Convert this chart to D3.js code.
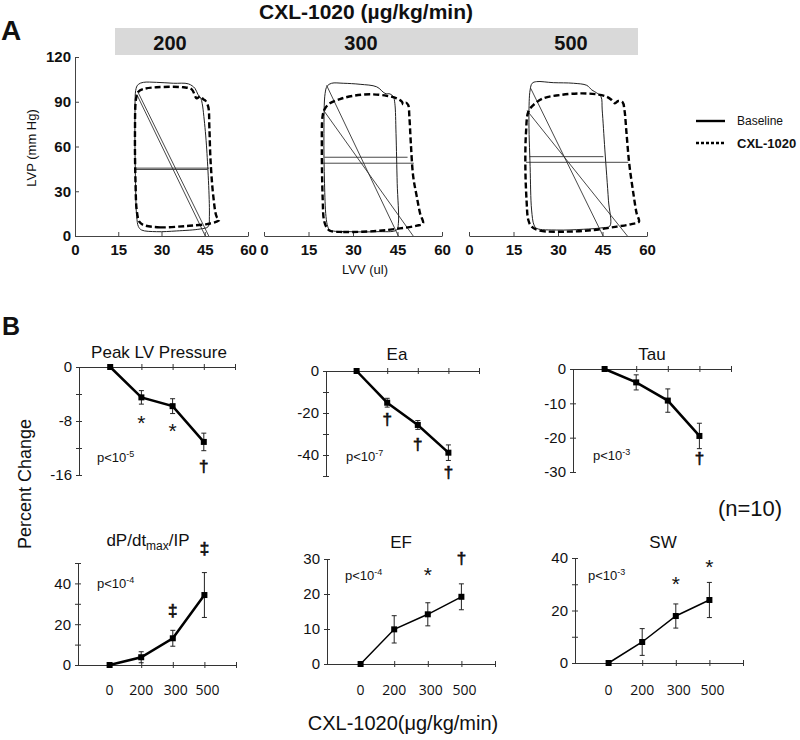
<!DOCTYPE html>
<html>
<head>
<meta charset="utf-8">
<script src="https://d3js.org/d3.v7.min.js"></script>
<style>
  body { margin: 0; background: #fff; }
  svg text { fill: #111; }
  .narrow { font-family: "Liberation Sans Narrow", "Arial Narrow", "Liberation Sans", sans-serif; font-weight: bold; }
  .arial { font-family: "Liberation Sans", Arial, sans-serif; }
  .opens { font-family: "Open Sans", "DejaVu Sans", sans-serif; }
</style>
</head>
<body>
<svg id="chart" width="800" height="740"></svg>
<script>
// ---------- panel A data : pressure-volume loops [volume (ul), pressure (mmHg)] ----------
const loopDoses = ['200', '300', '500'];
const lvvTicks = [0, 15, 30, 45, 60];
const lvpTicks = [0, 30, 60, 90, 120];

const base200 = [[23.1,4],[28.3,2.9],[35.3,3.4],[43.4,4.7],[46.2,6.3],[46.6,13],[45.7,57.7],[44.7,80],[44.1,89],
  [43.6,92.5],[42.6,95],[41.6,99],[39.3,102],[34.1,102.4],[28.3,103],[23.7,103],[22,101.7],[21.2,99],
  [20.8,80],[21,35.3],[21.4,13],[22,6.3]];
const cxl200 = [[23.7,7.4],[29.5,5.8],[38.7,6.7],[45.7,8],[49.1,9.6],[50,10.7],[49.1,13],[48,26],[47,51],[46.6,73],
  [46.2,86.7],[45.1,91],[44.6,91.5],[43.4,93.6],[42.2,92.3],[40.5,98.3],[37.6,99.7],[28.3,99.7],[23.7,98.5],
  [22,96.7],[21.2,92.3],[20.8,68.8],[21,35],[21.4,17.4],[22.3,9.6]];
const base300 = [[22.2,4],[29,2.9],[38,2.9],[44.7,4],[45.3,8.5],[44.9,35.3],[44.5,68.8],[44.1,89],[43.6,93.4],
  [42.5,95.2],[40.8,95.6],[38,100],[32.4,101.7],[26.7,102.4],[22.8,102.4],[21.3,100.5],[20.6,95.6],
  [20.2,68.8],[20.4,35.3],[20.9,13],[21.5,6.3]];
const cxl300 = [[22.2,3.5],[26.7,2.7],[38,3.4],[45.8,5.1],[51.5,6.9],[53.6,8.5],[52.6,15.2],[51.5,26.4],[50.3,39.8],
  [49.5,62],[49,80],[48.6,87.8],[47.8,89.4],[46.9,88.3],[46.5,90],[44.7,92.3],[41.3,94],[35.7,95],[30.1,94],
  [25.6,91.8],[22.2,89],[20.6,85.6],[19.8,81],[19.5,57.7],[19.8,24],[20.2,10.7],[21.1,5.8]];
const base500 = [[22.8,5.1],[29.6,4],[38.5,4.5],[45.3,5.6],[47.5,6.7],[47,24],[45.8,57.7],[44.9,84.5],[44.5,93.4],
  [43,96],[41.4,97.9],[39.7,101],[35.2,102.4],[28.4,102.8],[22.8,103.5],[21.3,102.4],[20.6,97.9],
  [20.2,80],[20.6,46.5],[21.1,17.4],[21.9,7.4]];
const cxl500 = [[21.1,6.3],[23.9,3.6],[32.9,2.9],[41.9,4],[49.8,6.3],[54.8,8],[57.3,9.6],[56.5,15.2],[55.4,28.6],
  [54,48.7],[53.1,68.8],[52.4,84.5],[51.8,89.6],[50.3,90.5],[49.2,89],[48.1,91.2],[46.4,93.4],[43,95],
  [37.4,95.6],[30.7,94.5],[25,92.3],[21.7,87.8],[20,83.3],[19.2,68.8],[19,46.5],[19.4,24],[20,10.7]];

// effective elastance lines (end-systole -> end-diastole at zero pressure) and mid-pressure lines
const eaLines200 = [[[21.7,97],[46.4,0]], [[21.4,95],[45.2,0]]];
const eaLines300 = [[[21.1,101],[45.3,0]], [[20.0,84.5],[50.3,0]]];
const eaLines500 = [[[20.8,99],[45.2,0]], [[19.6,84],[53.4,0]]];
const midLines200 = [[[20.8,45.5],[46.5,45.5]], [[21,44.6],[46,44.6]]];
const midLines300 = [[[20.4,52.8],[48.4,52.8]], [[19.8,48.8],[50.5,48.8]]];
const midLines500 = [[[20.4,53.2],[45.3,53.2]], [[19.2,49.4],[53.7,49.4]]];

// ---------- panel B data : percent change vs dose ----------
const doseLabels = ['0', '200', '300', '500'];
const peakLVP = [0, -4.5, -5.8, -11.1];
const peakLVPErr = [0, 1.0, 1.1, 1.3];
const eaVals = [0, -15.1, -25.7, -38.9];
const eaErr = [0, 2.1, 2.1, 3.7];
const tauVals = [0, -3.9, -9.2, -19.5];
const tauErr = [0, 2.2, 3.4, 3.7];
const dpdtVals = [0, 3.8, 13.1, 34.3];
const dpdtErr = [0, 2.7, 3.9, 11];
const efVals = [0, 9.9, 14.2, 19.2];
const efErr = [0, 3.9, 3.3, 3.7];
const swVals = [0, 8.0, 17.9, 24];
const swErr = [0, 5.1, 4.6, 6.7];

const peakTicks = [0, -4, -8, -12, -16], peakLabels = [0, -8, -16];
const eaTicks = [0, -10, -20, -30, -40, -50], eaLabels = [0, -20, -40];
const tauTicks = [0, -10, -20, -30], tauLabels = [0, -10, -20, -30];
const dpdtTicks = [0, 10, 20, 30, 40, 50], dpdtLabels = [0, 20, 40];
const efTicks = [0, 10, 20, 30], efLabels = [0, 10, 20, 30];
const swTicks = [0, 10, 20, 30, 40], swLabels = [0, 20, 40];

// significance marks: [dose index, level, symbol]
const peakMarks = [[1, -7.7, '*'], [2, -8.9, '*'], [3, -14.8, '†']];
const eaMarks = [[1, -23.3, '†'], [2, -35.2, '†'], [3, -48.6, '†']];
const tauMarks = [[3, -26.2, '†']];
const dpdtMarks = [[2, 26.5, '‡'], [3, 56.9, '‡']];
const efMarks = [[2, 26.6, '*'], [3, 30, '†']];
const swMarks = [[2, 31.6, '*'], [3, 38.1, '*']];

const svg = d3.select('#chart');

// ================= PANEL A =================
svg.append('text').attr('class', 'narrow').attr('x', 1).attr('y', 40).style('font-size', '28px').text('A');
svg.append('text').attr('class', 'narrow').attr('x', 366).attr('y', 19).attr('text-anchor', 'middle')
  .style('font-size', '21px').text('CXL-1020 (µg/kg/min)');
svg.append('rect').attr('x', 115).attr('y', 28).attr('width', 523).attr('height', 27).attr('fill', '#d9d9d9');
const barLabelX = [170, 361, 571];
loopDoses.forEach((d, i) => {
  svg.append('text').attr('class', 'narrow').attr('x', barLabelX[i]).attr('y', 50).attr('text-anchor', 'middle')
    .style('font-size', '20px').text(d);
});

const yA = d3.scaleLinear().domain([0, 120]).range([236, 57]);
const loopPlots = [
  {x0: 75, x1: 248, base: base200, cxl: cxl200, ea: eaLines200, mid: midLines200, yaxis: true},
  {x0: 264, x1: 442, base: base300, cxl: cxl300, ea: eaLines300, mid: midLines300, yaxis: false},
  {x0: 469, x1: 647, base: base500, cxl: cxl500, ea: eaLines500, mid: midLines500, yaxis: false}
];

loopPlots.forEach(p => {
  const x = d3.scaleLinear().domain([0, 60]).range([p.x0, p.x1]);
  const g = svg.append('g');
  const ax = g.append('g').attr('transform', 'translate(0,236)')
    .call(d3.axisBottom(x).tickValues(lvvTicks).tickSizeInner(-4).tickSizeOuter(0).tickPadding(8));
  ax.selectAll('text').attr('class', 'narrow').style('font-size', '15px').attr('fill', '#111');
  ax.selectAll('line, path').attr('stroke', '#444');
  if (p.yaxis) {
    const ay = g.append('g').attr('transform', 'translate(' + p.x0 + ',0)')
      .call(d3.axisLeft(yA).tickValues(lvpTicks).tickSizeInner(-4).tickSizeOuter(0).tickPadding(4));
    ay.selectAll('text').attr('class', 'narrow').style('font-size', '15px').attr('fill', '#111');
    ay.selectAll('line, path').attr('stroke', '#444');
  }
  const line = d3.line().x(d => x(d[0])).y(d => yA(d[1]));
  const loop = d3.line().x(d => x(d[0])).y(d => yA(d[1])).curve(d3.curveCatmullRomClosed.alpha(0.5));
  p.ea.concat(p.mid).forEach(seg => {
    g.append('path').attr('d', line(seg)).attr('fill', 'none').attr('stroke', '#333').attr('stroke-width', 0.9);
  });
  g.append('path').attr('d', loop(p.base)).attr('fill', 'none').attr('stroke', '#222').attr('stroke-width', 1);
  g.append('path').attr('d', loop(p.cxl)).attr('fill', 'none').attr('stroke', '#000')
    .attr('stroke-width', 2.4).attr('stroke-dasharray', '6,3');
});

svg.append('text').attr('class', 'arial').attr('transform', 'translate(36,148) rotate(-90)')
  .attr('text-anchor', 'middle').style('font-size', '13px').text('LVP (mm Hg)');
svg.append('text').attr('class', 'arial').attr('x', 365).attr('y', 274)
  .attr('text-anchor', 'middle').style('font-size', '13px').text('LVV (ul)');

// legend
svg.append('line').attr('x1', 696).attr('x2', 725).attr('y1', 121).attr('y2', 121)
  .attr('stroke', '#000').attr('stroke-width', 2.4);
svg.append('line').attr('x1', 696).attr('x2', 725).attr('y1', 143).attr('y2', 143)
  .attr('stroke', '#000').attr('stroke-width', 2.6).attr('stroke-dasharray', '3,2');
svg.append('text').attr('class', 'arial').attr('x', 737).attr('y', 125).style('font-size', '12px').text('Baseline');
svg.append('text').attr('class', 'arial').attr('x', 737).attr('y', 148).style('font-size', '13px')
  .style('font-weight', 'bold').text('CXL-1020');

// ================= PANEL B =================
svg.append('text').attr('class', 'arial').attr('x', 2).attr('y', 335).style('font-size', '25px')
  .style('font-weight', 'bold').text('B');
svg.append('text').attr('class', 'arial').attr('transform', 'translate(31,484) rotate(-90)')
  .attr('text-anchor', 'middle').style('font-size', '18px').text('Percent Change');
svg.append('text').attr('class', 'arial').attr('x', 750).attr('y', 516).attr('text-anchor', 'middle')
  .style('font-size', '22px').text('(n=10)');
svg.append('text').attr('class', 'arial').attr('x', 403).attr('y', 730).attr('text-anchor', 'middle')
  .style('font-size', '20px').text('CXL-1020(μg/kg/min)');

const panels = [
  {title: 'Peak LV Pressure', vals: peakLVP, errs: peakLVPErr, dom: [-16, 0], ticks: peakTicks, labels: peakLabels,
   marks: peakMarks, p: '-5', x0: 79, x1: 235, yLo: 475, yHi: 367, tx: 159, ty: 358, px: 97, py: 462, lw: 2.5, bottom: false},
  {title: 'Ea', vals: eaVals, errs: eaErr, dom: [-50, 0], ticks: eaTicks, labels: eaLabels,
   marks: eaMarks, p: '-7', x0: 326, x1: 479, yLo: 476, yHi: 371, tx: 397, ty: 360, px: 346, py: 461, lw: 2.5, bottom: false},
  {title: 'Tau', vals: tauVals, errs: tauErr, dom: [-30, 0], ticks: tauTicks, labels: tauLabels,
   marks: tauMarks, p: '-3', x0: 573, x1: 731, yLo: 472, yHi: 369, tx: 652, ty: 360, px: 593, py: 460, lw: 2.5, bottom: false},
  {title: 'dP/dt', sub: 'max', post: '/IP', vals: dpdtVals, errs: dpdtErr, dom: [0, 50], ticks: dpdtTicks, labels: dpdtLabels,
   marks: dpdtMarks, p: '-4', x0: 78, x1: 236, yLo: 665, yHi: 563, tx: 148, ty: 546, px: 97, py: 588, lw: 2.5, bottom: true},
  {title: 'EF', vals: efVals, errs: efErr, dom: [0, 30], ticks: efTicks, labels: efLabels,
   marks: efMarks, p: '-4', x0: 327, x1: 495, yLo: 664, yHi: 559, tx: 401, ty: 548, px: 345, py: 580, lw: 1.5, bottom: true},
  {title: 'SW', vals: swVals, errs: swErr, dom: [0, 40], ticks: swTicks, labels: swLabels,
   marks: swMarks, p: '-3', x0: 575, x1: 743, yLo: 663, yHi: 558, tx: 663, ty: 548, px: 588, py: 580, lw: 1.5, bottom: true}
];

panels.forEach(p => {
  const g = svg.append('g');
  const x = d3.scaleLinear().domain([-1, 4]).range([p.x0, p.x1]);
  const y = d3.scaleLinear().domain(p.dom).range([p.yLo, p.yHi]);

  // axes
  const ay = g.append('g').attr('transform', 'translate(' + p.x0 + ',0)')
    .call(d3.axisLeft(y).tickValues(p.ticks).tickSizeOuter(0).tickSizeInner(3).tickPadding(4)
      .tickFormat(d => p.labels.includes(d) ? String(d) : ''));
  ay.selectAll('.tick line').attr('x1', 3).attr('x2', -3);
  ay.selectAll('line, path').attr('stroke', '#333');
  ay.selectAll('text').attr('class', 'arial').style('font-size', '15px').attr('fill', '#111');

  const ax = g.append('g').attr('transform', 'translate(0,' + y(0) + ')')
    .call(d3.axisBottom(x).tickValues([0, 1, 2, 3, 4]).tickSizeOuter(0).tickSizeInner(3).tickFormat(''));
  ax.selectAll('.tick line').attr('y1', -3).attr('y2', 3);
  ax.selectAll('line, path').attr('stroke', '#333');

  if (p.bottom) {
    g.selectAll('text.dose').data(doseLabels).join('text').attr('class', 'opens')
      .attr('x', (d, i) => x(i) + (i > 1 ? 3 : 0)).attr('y', 695).attr('text-anchor', 'middle')
      .style('font-size', '14px').text(d => d);
  }

  // title
  const t = g.append('text').attr('class', 'arial').attr('x', p.tx).attr('y', p.ty).attr('text-anchor', 'middle')
    .style('font-size', '17px').text(p.title);
  if (p.sub) {
    t.append('tspan').attr('dy', 4).style('font-size', '12px').text(p.sub);
    t.append('tspan').attr('dy', -4).text(p.post);
  }

  // p value
  const pv = g.append('text').attr('class', 'arial').attr('x', p.px).attr('y', p.py).style('font-size', '13px').text('p<10');
  pv.append('tspan').attr('dy', -5).style('font-size', '9px').text(p.p);

  // error bars
  const pts = p.vals.map((v, i) => ({i, v, e: p.errs[i]}));
  const eb = g.selectAll('g.err').data(pts.filter(d => d.e > 0)).join('g');
  eb.append('line').attr('x1', d => x(d.i)).attr('x2', d => x(d.i))
    .attr('y1', d => y(d.v - d.e)).attr('y2', d => y(d.v + d.e)).attr('stroke', '#222').attr('stroke-width', 1);
  ['lo', 'hi'].forEach(k => {
    eb.append('line').attr('x1', d => x(d.i) - 2.5).attr('x2', d => x(d.i) + 2.5)
      .attr('y1', d => y(k === 'lo' ? d.v - d.e : d.v + d.e)).attr('y2', d => y(k === 'lo' ? d.v - d.e : d.v + d.e))
      .attr('stroke', '#222').attr('stroke-width', 1);
  });

  // line + square markers
  g.append('path').datum(pts).attr('fill', 'none').attr('stroke', '#000').attr('stroke-width', p.lw)
    .attr('d', d3.line().x(d => x(d.i)).y(d => y(d.v)));
  g.selectAll('rect.mk').data(pts).join('rect')
    .attr('x', d => x(d.i) - 3).attr('y', d => y(d.v) - 3).attr('width', 6).attr('height', 6).attr('fill', '#000');

  // significance marks (daggers get a thin stroke so they render solid black)
  g.selectAll('text.sig').data(p.marks).join('text').attr('class', 'arial')
    .attr('x', d => x(d[0])).attr('y', d => y(d[1]) + (d[2] === '*' ? 11 : 5))
    .attr('text-anchor', 'middle').style('font-size', d => d[2] === '*' ? '21px' : '17px')
    .attr('stroke', d => d[2] === '*' ? 'none' : '#111').attr('stroke-width', 0.7)
    .style('fill', '#111').text(d => d[2]);
});
</script>
</body>
</html>
